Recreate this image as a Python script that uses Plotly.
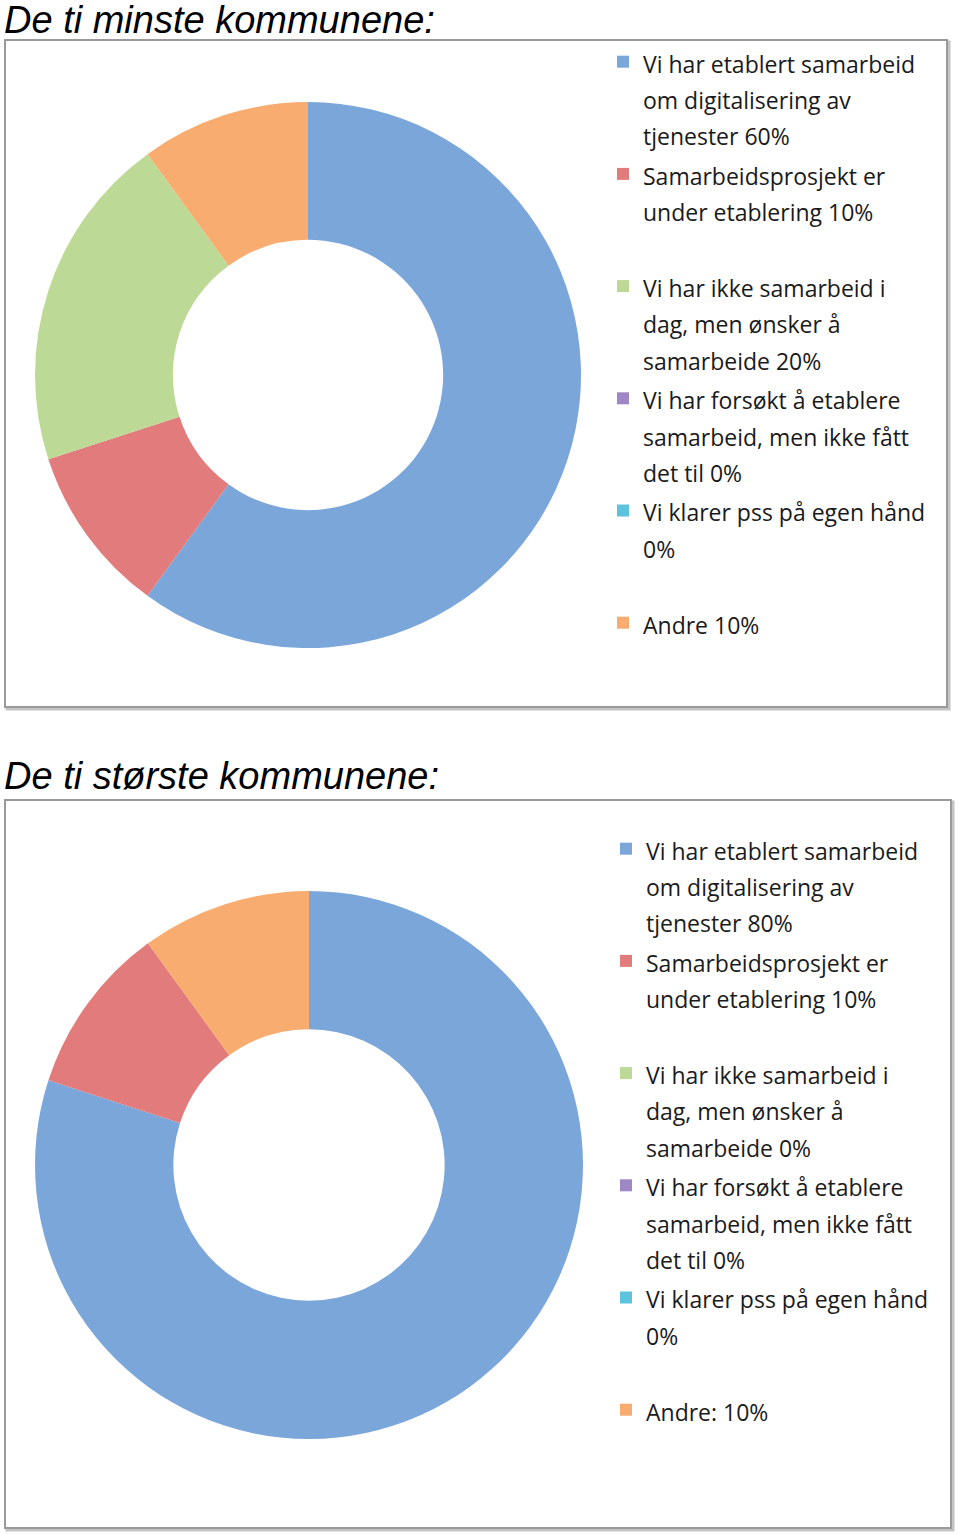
import plotly.graph_objects as go

W, H = 960, 1535

labels_small = [
    "Vi har etablert samarbeid<br>om digitalisering av<br>tjenester 60%",
    "Samarbeidsprosjekt er<br>under etablering 10%<br>&nbsp;",
    "Vi har ikke samarbeid i<br>dag, men ønsker å<br>samarbeide 20%",
    "Vi har forsøkt å etablere<br>samarbeid, men ikke fått<br>det til 0%",
    "Vi klarer pss på egen hånd<br>0%<br>&nbsp;",
    "Andre 10%",
]
values_small = [60, 10, 20, 0, 0, 10]

labels_large = [
    "Vi har etablert samarbeid<br>om digitalisering av<br>tjenester 80%",
    "Samarbeidsprosjekt er<br>under etablering 10%<br>&nbsp;",
    "Vi har ikke samarbeid i<br>dag, men ønsker å<br>samarbeide 0%",
    "Vi har forsøkt å etablere<br>samarbeid, men ikke fått<br>det til 0%",
    "Vi klarer pss på egen hånd<br>0%<br>&nbsp;",
    "Andre: 10%",
]
values_large = [80, 10, 0, 0, 0, 10]

colors = ["#7AA6DA", "#E27C7C", "#BCDA95", "#9F87C6", "#5BC3DE", "#F9AC70"]


def px(x):
    return x / W


def py(y):
    return 1 - y / H


def styled(lbl, tag):
    # smaller glyphs, but keep the legend's wider line spacing;
    # tag keeps labels of the two pies distinct (pie legends merge equal labels)
    return "<br>".join('<span style="font-size:23px;%s">%s</span>' % (tag, s) for s in lbl.split("<br>"))


fig = go.Figure()
fig.add_trace(go.Pie(
    labels=[styled(l, "color:#1a1a1a") for l in labels_small], values=values_small, hole=0.495,
    sort=False, direction="clockwise", rotation=0,
    marker=dict(colors=colors, line=dict(width=0)),
    textinfo="none", hoverinfo="label+percent",
    domain=dict(x=[px(35), px(581)], y=[py(648), py(102)]),
    legend="legend",
))
fig.add_trace(go.Pie(
    labels=[styled(l, "color:#1b1b1b") for l in labels_large], values=values_large, hole=0.495,
    sort=False, direction="clockwise", rotation=0,
    marker=dict(colors=colors, line=dict(width=0)),
    textinfo="none", hoverinfo="label+percent",
    domain=dict(x=[px(35), px(583)], y=[py(1440), py(890)]),
    legend="legend2",
))

legend_style = dict(
    font=dict(family="Open Sans, Liberation Sans, sans-serif", size=28, color="#1a1a1a"),
    valign="top", xanchor="left", yanchor="top", bgcolor="rgba(0,0,0,0)",
)
title_font = dict(family="Liberation Sans, Arial, sans-serif", size=38, color="black")
fig.update_layout(
    width=W, height=H,
    margin=dict(l=0, r=0, t=0, b=0),
    paper_bgcolor="white", plot_bgcolor="white",
    legend=dict(x=px(603), y=py(37), **legend_style),
    legend2=dict(x=px(606), y=py(824), **legend_style),
    shapes=[
        dict(type="rect", xref="paper", yref="paper", x0=px(7), x1=px(949), y0=py(709), y1=py(42),
             line=dict(color="#C4C4C4", width=3), layer="below"),
        dict(type="rect", xref="paper", yref="paper", x0=px(5), x1=px(947), y0=py(707), y1=py(40),
             line=dict(color="#9A9A9A", width=2), fillcolor="white", layer="below"),
        dict(type="rect", xref="paper", yref="paper", x0=px(7), x1=px(953), y0=py(1530), y1=py(802),
             line=dict(color="#C4C4C4", width=3), layer="below"),
        dict(type="rect", xref="paper", yref="paper", x0=px(5), x1=px(951), y0=py(1528), y1=py(800),
             line=dict(color="#9A9A9A", width=2), fillcolor="white", layer="below"),
    ],
    annotations=[
        dict(text="<i>De ti minste kommunene:</i>", x=px(2), y=py(-3), xref="paper", yref="paper",
             xanchor="left", yanchor="top", showarrow=False, font=title_font),
        dict(text="<i>De ti største kommunene:</i>", x=px(2), y=py(753), xref="paper", yref="paper",
             xanchor="left", yanchor="top", showarrow=False, font=title_font),
    ],
)

fig.write_html("out.html", config={"displayModeBar": False},
               post_script="document.body.style.margin = '0';")
